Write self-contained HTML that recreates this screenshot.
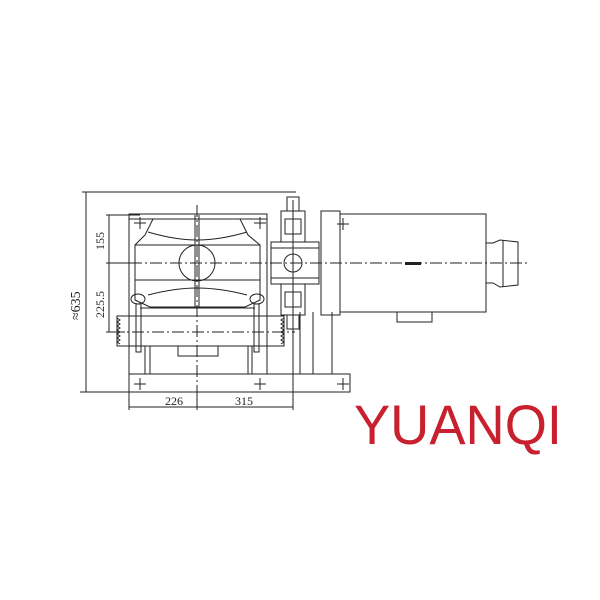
<!DOCTYPE html>
<html><head><style>body{margin:0;background:#fff}svg{display:block}</style></head><body>
<svg width="600" height="600" viewBox="0 0 600 600" xmlns="http://www.w3.org/2000/svg" font-family="Liberation Serif, serif">
<g stroke="#222" fill="none" stroke-width="1">
<line x1="82" y1="192" x2="296" y2="192"/>
<line x1="86" y1="192" x2="86" y2="392"/>
<line x1="80" y1="392" x2="130" y2="392"/>
<line x1="106" y1="215" x2="140" y2="215"/>
<line x1="106" y1="263" x2="130" y2="263"/>
<line x1="106" y1="332" x2="125" y2="332"/>
<line x1="109" y1="215" x2="109" y2="332"/>
<line x1="129" y1="392" x2="129" y2="410"/>
<line x1="197" y1="392" x2="197" y2="410"/>
<line x1="293" y1="200" x2="293" y2="410"/>
<line x1="129" y1="407" x2="293" y2="407"/>
<rect x="129" y="214" width="138" height="160"/>
<line x1="129" y1="219" x2="267" y2="219"/>
<path d="M153 219 L240 219 L248 235 L260 245 L260 300 L245 307 L150 307 L135 300 L135 245 L145 235 Z"/>
<line x1="135" y1="245" x2="260" y2="245"/>
<line x1="135" y1="280" x2="260" y2="280"/>
<path d="M148 232 Q175 240 197 240 Q220 240 247 232"/>
<path d="M148 295 Q175 288 197 288 Q220 288 247 295"/>
<circle cx="197" cy="263" r="18"/>
<line x1="195" y1="215" x2="195" y2="308"/>
<line x1="199" y1="215" x2="199" y2="308"/>
<ellipse cx="138" cy="299" rx="7" ry="5"/><ellipse cx="257" cy="299" rx="7" ry="5"/>
<rect x="136" y="304" width="5" height="48"/><rect x="254" y="304" width="5" height="48"/>
<rect x="117" y="316" width="167" height="30"/>
<path d="M117 318 l3 2 -3 2 3 2 -3 2 3 2 -3 2 3 2 -3 2 3 2 -3 2 3 2 -3 2 3 2"/>
<path d="M284 318 l-3 2 3 2 -3 2 3 2 -3 2 3 2 -3 2 3 2 -3 2 3 2 -3 2 3 2 -3 2"/>
<line x1="140" y1="308" x2="255" y2="308"/>
<rect x="178" y="346" width="40" height="10"/>
<line x1="145" y1="346" x2="145" y2="374"/><line x1="252" y1="346" x2="252" y2="374"/>
<line x1="150" y1="346" x2="150" y2="374"/><line x1="248" y1="346" x2="248" y2="374"/>
<rect x="129" y="374" width="221" height="18"/>
<line x1="300" y1="312" x2="300" y2="374"/><line x1="332" y1="312" x2="332" y2="374"/>
<line x1="313" y1="312" x2="313" y2="374"/>
<rect x="271" y="242" width="48" height="42"/>
<line x1="271" y1="248" x2="319" y2="248"/><line x1="271" y1="278" x2="319" y2="278"/>
<circle cx="293" cy="263" r="9"/>
<rect x="281" y="211" width="24" height="31"/><rect x="281" y="284" width="24" height="31"/>
<rect x="285" y="219" width="16" height="15"/><rect x="285" y="292" width="16" height="15"/>
<rect x="287" y="197" width="12" height="14"/><rect x="287" y="315" width="12" height="14"/>
<rect x="321" y="211" width="19" height="104"/>
<rect x="340" y="214" width="146" height="98"/>
<rect x="397" y="312" width="35" height="10"/>
<path d="M486 243 L493 243 L500 240 L518 242 L518 285 L500 287 L493 283 L486 283"/>
<line x1="503" y1="240" x2="503" y2="287"/>
</g>
<g stroke="#222" stroke-width="1" stroke-dasharray="12,3,2,3">
<line x1="110" y1="263" x2="530" y2="263"/>
<line x1="112" y1="332" x2="295" y2="332"/>
<line x1="197" y1="205" x2="197" y2="410"/>
</g>
<rect x="405" y="262" width="16" height="3" fill="#222"/>
<g stroke="#222" stroke-width="1">
<path d="M134 223h12M140 217v12M254 223h12M260 217v12M134 384h12M140 378v12M254 384h12M260 378v12M337 384h12M343 378v12M337 224h12M343 218v12"/>
</g>
<g font-size="12" fill="#222">
<text x="165" y="405">226</text>
<text x="235" y="405">315</text>
<text transform="translate(104,250) rotate(-90)">155</text>
<text transform="translate(104,318) rotate(-90)">225.5</text>
<text transform="translate(80,320) rotate(-90)" font-size="14">≈635</text>
</g>
<text x="354" y="444" font-family="Liberation Sans, sans-serif" font-size="56" fill="#c8202e" textLength="208" lengthAdjust="spacingAndGlyphs">YUANQI</text>
</svg>
</body></html>
